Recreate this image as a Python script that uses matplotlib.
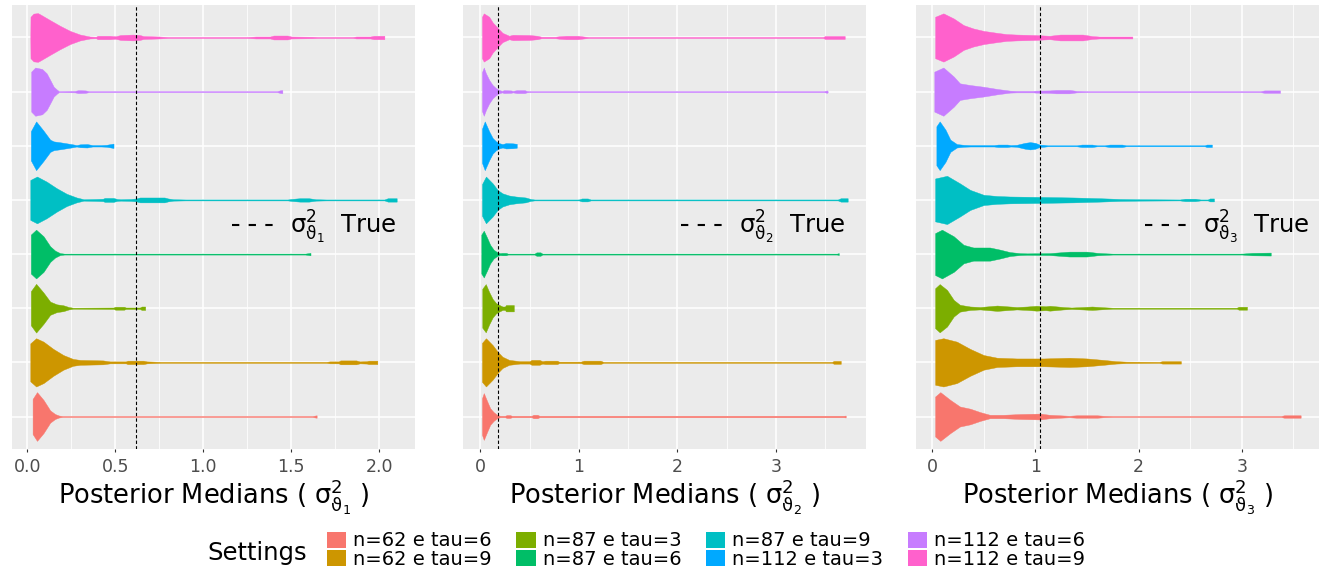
import numpy as np
import matplotlib.pyplot as plt
from matplotlib.patches import Patch
from matplotlib.lines import Line2D

# settings, bottom to top in every panel
SETTINGS = ['n=62 e tau=6', 'n=62 e tau=9', 'n=87 e tau=3', 'n=87 e tau=6',
            'n=87 e tau=9', 'n=112 e tau=3', 'n=112 e tau=6', 'n=112 e tau=9']
COLORS = ['#F8766D', '#CD9600', '#7CAE00', '#00BE67',
          '#00BFC4', '#00A9FF', '#C77CFF', '#FF61CC']

TRUE_VALUES = [0.62, 0.18, 1.05]
TICKS = [[0, 0.5, 1.0, 1.5, 2.0], [0, 1, 2, 3], [0, 1, 2, 3]]
TICK_LABELS = [['0.0', '0.5', '1.0', '1.5', '2.0'], ['0', '1', '2', '3'], ['0', '1', '2', '3']]
MINOR_TICKS = [[0.25, 0.75, 1.25, 1.75], [0.5, 1.5, 2.5, 3.5], [0.5, 1.5, 2.5, 3.5]]

# violin outlines: (posterior median, relative half-width)
PANEL1 = [
    [(0.03, 0), (0.03, 0.72), (0.055, 1.0), (0.092, 0.68), (0.13, 0.25), (0.158, 0.1), (0.18, 0.04),
     (0.20, 0.02), (1.62, 0.02), (1.645, 0.05), (1.645, 0)],
    [(0.017, 0), (0.017, 0.78), (0.05, 0.99), (0.092, 0.85), (0.148, 0.55), (0.205, 0.3), (0.26, 0.14),
     (0.30, 0.1), (0.43, 0.08), (0.47, 0.04), (0.56, 0.04), (0.57, 0.07), (0.66, 0.07), (0.68, 0.04),
     (0.72, 0.03), (0.76, 0.02), (1.70, 0.02), (1.72, 0.04), (1.77, 0.04), (1.78, 0.08), (1.87, 0.08),
     (1.89, 0.04), (1.93, 0.05), (1.94, 0.07), (1.99, 0.07), (1.99, 0)],
    [(0.02, 0), (0.02, 0.7), (0.05, 1.0), (0.092, 0.64), (0.13, 0.27), (0.167, 0.16), (0.205, 0.12),
     (0.235, 0.05), (0.26, 0.02), (0.49, 0.03), (0.50, 0.06), (0.55, 0.06), (0.56, 0.03), (0.64, 0.03),
     (0.65, 0.07), (0.67, 0.07), (0.67, 0)],
    [(0.02, 0), (0.02, 0.8), (0.05, 1.0), (0.092, 0.73), (0.13, 0.32), (0.158, 0.14), (0.186, 0.04),
     (0.21, 0.02), (1.58, 0.02), (1.61, 0.05), (1.61, 0)],
    [(0.017, 0), (0.017, 0.82), (0.055, 0.96), (0.11, 0.75), (0.167, 0.48), (0.224, 0.25), (0.28, 0.1),
     (0.32, 0.03), (0.39, 0.04), (0.43, 0.05), (0.44, 0.08), (0.49, 0.08), (0.51, 0.04), (0.53, 0.03),
     (0.59, 0.04), (0.62, 0.06), (0.64, 0.1), (0.78, 0.1), (0.80, 0.06), (0.83, 0.03), (0.9, 0.02),
     (1.48, 0.02), (1.50, 0.04), (1.55, 0.07), (1.60, 0.07), (1.64, 0.03), (1.70, 0.02), (2.03, 0.02),
     (2.05, 0.07), (2.10, 0.07), (2.10, 0)],
    [(0.02, 0), (0.02, 0.6), (0.05, 1.0), (0.092, 0.62), (0.13, 0.25), (0.15, 0.18), (0.19, 0.14),
     (0.25, 0.07), (0.28, 0.03), (0.30, 0.06), (0.34, 0.07), (0.37, 0.03), (0.42, 0.03), (0.45, 0.04),
     (0.49, 0.09), (0.49, 0)],
    [(0.022, 0), (0.022, 0.82), (0.045, 0.99), (0.084, 0.93), (0.11, 0.75), (0.13, 0.48), (0.15, 0.2),
     (0.17, 0.07), (0.18, 0.02), (0.27, 0.03), (0.29, 0.06), (0.33, 0.05), (0.35, 0.02), (1.42, 0.02),
     (1.44, 0.06), (1.45, 0.06), (1.45, 0)],
    [(0.017, 0), (0.018, 0.85), (0.035, 0.98), (0.06, 1.0), (0.073, 0.95), (0.13, 0.71), (0.186, 0.48),
     (0.243, 0.27), (0.30, 0.12), (0.356, 0.04), (0.39, 0.03), (0.40, 0.07), (0.47, 0.07), (0.50, 0.05),
     (0.53, 0.1), (0.60, 0.12), (0.64, 0.1), (0.66, 0.06), (0.75, 0.04), (0.80, 0.02), (1.25, 0.02),
     (1.30, 0.04), (1.38, 0.04), (1.40, 0.08), (1.48, 0.08), (1.50, 0.04), (1.62, 0.03), (1.65, 0.02),
     (1.85, 0.02), (1.87, 0.04), (1.95, 0.04), (1.97, 0.07), (2.03, 0.07), (2.03, 0)],
]

PANEL2 = [
    [(0.017, 0), (0.017, 0.75), (0.035, 0.96), (0.07, 0.62), (0.10, 0.34), (0.135, 0.18), (0.17, 0.07),
     (0.2, 0.03), (0.25, 0.03), (0.27, 0.06), (0.30, 0.06), (0.32, 0.03), (0.52, 0.03), (0.54, 0.07),
     (0.58, 0.07), (0.60, 0.03), (3.69, 0.03), (3.71, 0.04), (3.71, 0)],
    [(0.017, 0), (0.017, 0.8), (0.057, 0.99), (0.125, 0.71), (0.175, 0.44), (0.225, 0.23), (0.293, 0.1),
     (0.4, 0.05), (0.5, 0.05), (0.52, 0.1), (0.6, 0.1), (0.63, 0.05), (0.66, 0.07), (0.78, 0.07),
     (0.8, 0.03), (1.02, 0.03), (1.05, 0.07), (1.22, 0.07), (1.25, 0.02), (3.57, 0.02), (3.59, 0.06),
     (3.66, 0.06), (3.66, 0)],
    [(0.02, 0), (0.02, 0.8), (0.055, 0.99), (0.09, 0.66), (0.125, 0.38), (0.16, 0.21), (0.19, 0.14),
     (0.225, 0.07), (0.25, 0.07), (0.26, 0.13), (0.34, 0.13), (0.34, 0)],
    [(0.01, 0), (0.01, 0.8), (0.035, 0.96), (0.07, 0.66), (0.10, 0.38), (0.135, 0.18), (0.17, 0.08),
     (0.2, 0.04), (0.22, 0.05), (0.26, 0.05), (0.28, 0.02), (0.55, 0.02), (0.57, 0.07), (0.61, 0.07),
     (0.63, 0.02), (3.62, 0.02), (3.64, 0.04), (3.64, 0)],
    [(0.017, 0), (0.017, 0.65), (0.057, 0.96), (0.125, 0.68), (0.175, 0.41), (0.225, 0.27), (0.293, 0.18),
     (0.36, 0.14), (0.46, 0.1), (0.51, 0.04), (0.55, 0.02), (1.0, 0.02), (1.03, 0.06), (1.09, 0.06),
     (1.12, 0.02), (3.63, 0.02), (3.66, 0.07), (3.73, 0.07), (3.73, 0)],
    [(0.017, 0), (0.017, 0.7), (0.045, 1.0), (0.09, 0.59), (0.125, 0.32), (0.16, 0.18), (0.19, 0.11),
     (0.225, 0.07), (0.26, 0.11), (0.33, 0.1), (0.37, 0.08), (0.37, 0)],
    [(0.017, 0), (0.017, 0.8), (0.035, 0.99), (0.057, 0.75), (0.09, 0.48), (0.125, 0.27), (0.16, 0.14),
     (0.19, 0.07), (0.22, 0.03), (0.24, 0.06), (0.31, 0.05), (0.33, 0.03), (0.37, 0.06), (0.45, 0.06),
     (0.47, 0.03), (0.5, 0.02), (3.49, 0.02), (3.52, 0.05), (3.53, 0)],
    [(0.017, 0), (0.017, 0.85), (0.035, 0.99), (0.09, 0.85), (0.125, 0.62), (0.175, 0.4), (0.225, 0.19),
     (0.293, 0.07), (0.31, 0.09), (0.33, 0.11), (0.5, 0.1), (0.58, 0.07), (0.62, 0.03), (0.76, 0.03),
     (0.8, 0.05), (0.87, 0.07), (0.99, 0.07), (1.05, 0.04), (1.1, 0.02), (3.48, 0.02), (3.50, 0.06),
     (3.70, 0.06), (3.70, 0)],
]

PANEL3 = [
    [(0.03, 0), (0.03, 0.82), (0.08, 1.0), (0.177, 0.68), (0.27, 0.41), (0.37, 0.32), (0.466, 0.18),
     (0.56, 0.07), (0.69, 0.07), (0.85, 0.1), (1.045, 0.12), (1.14, 0.07), (1.33, 0.03), (1.4, 0.05),
     (1.6, 0.05), (1.66, 0.03), (1.75, 0.02), (3.38, 0.02), (3.41, 0.05), (3.57, 0.05), (3.57, 0)],
    [(0.03, 0), (0.03, 0.92), (0.11, 0.99), (0.24, 0.85), (0.37, 0.55), (0.50, 0.3), (0.63, 0.19),
     (0.82, 0.16), (1.08, 0.16), (1.33, 0.19), (1.5, 0.16), (1.66, 0.1), (1.78, 0.05), (1.88, 0.03),
     (2.2, 0.02), (2.23, 0.05), (2.41, 0.05), (2.41, 0)],
    [(0.03, 0), (0.03, 0.82), (0.074, 0.99), (0.145, 0.75), (0.21, 0.34), (0.27, 0.14), (0.37, 0.07),
     (0.466, 0.05), (0.55, 0.08), (0.63, 0.11), (0.72, 0.08), (0.82, 0.05), (0.92, 0.07), (1.01, 0.1),
     (1.1, 0.08), (1.14, 0.1), (1.27, 0.05), (1.35, 0.03), (1.46, 0.05), (1.55, 0.07), (1.66, 0.04),
     (1.75, 0.02), (2.95, 0.02), (2.97, 0.06), (3.05, 0.06), (3.05, 0)],
    [(0.03, 0), (0.03, 0.86), (0.096, 1.0), (0.21, 0.73), (0.305, 0.38), (0.40, 0.27), (0.56, 0.27),
     (0.66, 0.18), (0.755, 0.08), (0.85, 0.04), (0.92, 0.03), (1.14, 0.04), (1.33, 0.1), (1.50, 0.1),
     (1.6, 0.05), (1.69, 0.03), (1.75, 0.02), (3.0, 0.02), (3.1, 0.05), (3.28, 0.06), (3.28, 0)],
    [(0.03, 0), (0.03, 0.88), (0.145, 0.99), (0.27, 0.68), (0.37, 0.41), (0.50, 0.21), (0.63, 0.16),
     (0.755, 0.14), (1.08, 0.12), (1.37, 0.1), (1.62, 0.07), (1.82, 0.04), (2.0, 0.03), (2.4, 0.02),
     (2.45, 0.05), (2.55, 0.05), (2.6, 0.02), (2.67, 0.02), (2.69, 0.06), (2.73, 0.06), (2.73, 0)],
    [(0.042, 0), (0.042, 0.8), (0.074, 1.0), (0.13, 0.66), (0.177, 0.25), (0.24, 0.07), (0.305, 0.04),
     (0.37, 0.03), (0.6, 0.03), (0.64, 0.05), (0.73, 0.05), (0.76, 0.03), (0.82, 0.04), (0.9, 0.12),
     (0.95, 0.15), (1.0, 0.12), (1.04, 0.05), (1.08, 0.04), (1.12, 0.02), (1.4, 0.02), (1.45, 0.05),
     (1.55, 0.05), (1.6, 0.02), (1.67, 0.02), (1.72, 0.05), (1.84, 0.05), (1.88, 0.02), (2.64, 0.02),
     (2.66, 0.05), (2.71, 0.05), (2.71, 0)],
    [(0.022, 0), (0.022, 0.82), (0.11, 0.99), (0.21, 0.62), (0.27, 0.34), (0.37, 0.27), (0.50, 0.2),
     (0.63, 0.11), (0.755, 0.04), (0.82, 0.03), (0.98, 0.03), (1.0, 0.04), (1.14, 0.05), (1.2, 0.07),
     (1.33, 0.07), (1.40, 0.03), (1.5, 0.02), (3.18, 0.02), (3.22, 0.05), (3.37, 0.05), (3.37, 0)],
    [(0.03, 0), (0.03, 0.85), (0.11, 0.99), (0.21, 0.78), (0.305, 0.51), (0.40, 0.37), (0.50, 0.27),
     (0.63, 0.19), (0.72, 0.14), (0.82, 0.12), (1.0, 0.1), (1.14, 0.07), (1.24, 0.12), (1.46, 0.12),
     (1.55, 0.06), (1.62, 0.04), (1.94, 0.04), (1.94, 0)],
]

PANELS = [PANEL1, PANEL2, PANEL3]

W, H = 1322, 574
fig = plt.figure(figsize=(W / 100, H / 100), dpi=100)

lefts = [12, 463, 916]
key_x = [0.545, 0.541, 0.568]
half = 0.45  # ggplot violin width 0.9

for k, profiles in enumerate(PANELS):
    ax = fig.add_axes([lefts[k] / W, (H - 449) / H, 403 / W, 444 / H])
    ax.set_facecolor('#EBEBEB')
    for s in ax.spines.values():
        s.set_visible(False)

    lo, hi = np.inf, -np.inf
    for i, prof in enumerate(profiles):
        xs = np.array([p[0] for p in prof])
        ws = np.array([p[1] for p in prof]) * half
        ax.fill_between(xs, i + 1 - ws, i + 1 + ws, facecolor=COLORS[i],
                        edgecolor=COLORS[i], lw=0.3, zorder=3)
        lo, hi = min(lo, xs.min()), max(hi, xs.max())

    pad = (hi - lo) * 0.05
    ax.set_xlim(lo - pad, hi + pad)
    ax.set_ylim(0.4, len(SETTINGS) + 0.6)

    ax.set_xticks(TICKS[k])
    ax.set_xticklabels(TICK_LABELS[k])
    ax.set_xticks(MINOR_TICKS[k], minor=True)
    ax.set_yticks(np.arange(1, len(SETTINGS) + 1))
    ax.tick_params(axis='y', length=0, labelleft=False)
    ax.tick_params(axis='x', which='major', length=2.5, width=0.8, color='#333333',
                   labelsize=12.5, labelcolor='#4D4D4D', pad=4)
    ax.tick_params(axis='x', which='minor', length=0)
    ax.grid(which='major', color='white', lw=1.1)
    ax.grid(which='minor', axis='x', color='white', lw=0.55)
    ax.set_axisbelow(True)

    ax.axvline(TRUE_VALUES[k], color='black', lw=0.8, ls=(0, (3, 2)), zorder=4)

    sub = k + 1
    sym = rf"$\mathrm{{\sigma}}^2_{{\mathrm{{\vartheta}}_{sub}}}$"
    ax.set_xlabel(f"Posterior Medians ( {sym} )", fontsize=18.5, va='center')
    ax.xaxis.set_label_coords(0.5, -0.108)

    h = Line2D([], [], color='black', lw=1.5, ls=(0, (3.5, 4.5)))
    ax.legend([h], [f"{sym}  True"], loc='center left',
              bbox_to_anchor=(key_x[k], 0.5), frameon=False, fontsize=17.5,
              handlelength=1.7, handletextpad=0.7, borderpad=0, borderaxespad=0)

handles = [Patch(facecolor=c, edgecolor='none') for c in COLORS]
fig.legend(handles, SETTINGS, ncol=4, loc='center left',
           bbox_to_anchor=(327 / W, (H - 550) / H), frameon=False, fontsize=14,
           handlelength=1.0, handleheight=0.9, handletextpad=0.36, columnspacing=1.25,
           labelspacing=-0.05, borderpad=0, borderaxespad=0)
fig.text(207 / W, (H - 553) / H, 'Settings', fontsize=17.5, va='center', ha='left')

fig.savefig('out.png', dpi=100)
